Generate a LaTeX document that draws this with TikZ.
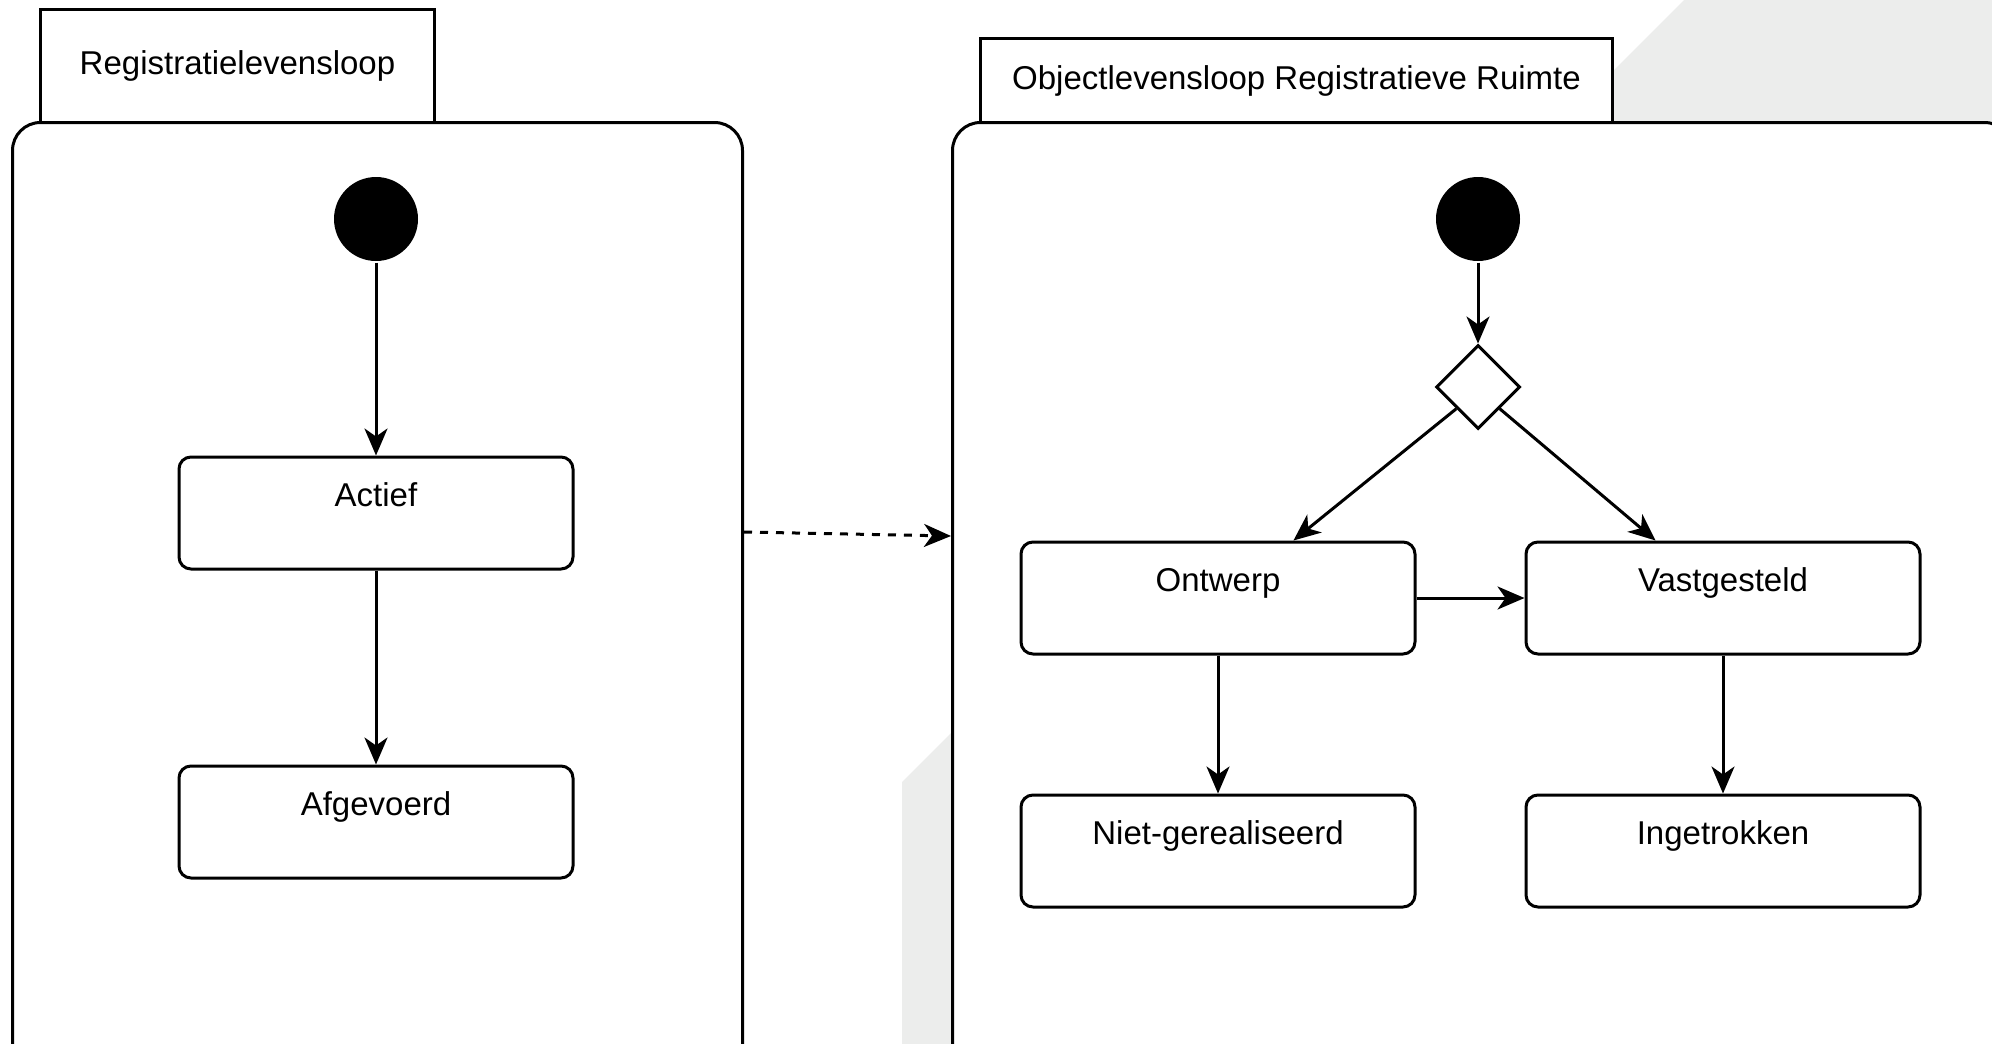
\documentclass[tikz,border=0pt]{standalone}
\usepackage{fontspec}
\setmainfont{Liberation Sans}
\usetikzlibrary{arrows.meta,shapes.geometric,calc}
\definecolor{bggray}{RGB}{236,237,236}
\begin{document}
\begin{tikzpicture}[x=1pt,y=-1pt, line width=3pt, font=\fontsize{33}{40}\selectfont,
 box/.style={draw, rounded corners=12pt, fill=white, minimum width=394pt, minimum height=112pt, inner sep=0pt, text height=24pt, text depth=38pt},
 container/.style={draw, rounded corners=28pt, fill=white, inner sep=0pt, anchor=north west},
 tab/.style={draw, fill=white, inner sep=0pt, anchor=north west},
 start/.style={circle, fill=black, minimum size=84pt, inner sep=0pt},
 choice/.style={diamond, draw, fill=white, minimum width=84pt, minimum height=84pt, inner sep=0pt, line width=3pt},
 arr/.style={-{Stealth[length=27pt,width=23pt,inset=8pt]}, line width=3pt}]
\useasboundingbox (0,0) rectangle (1992,1044);
\clip (0,0) rectangle (1992,1044);
\fill[bggray] (1684,0) -- (1992,0) -- (1992,1044) -- (902,1044) -- (902,782) -- cycle;
\node[container, minimum width=730pt, minimum height=950pt] (lc) at (11,121) {};
\node[container, minimum width=1060pt, minimum height=950pt] (rc) at (951,121) {};
\node[tab, minimum width=394pt, minimum height=113pt] (lt) at (39,8) {Registratielevensloop};
\node[tab, minimum width=632pt, minimum height=84pt] (rt) at (979,37) {Objectlevensloop Registratieve Ruimte};
\node[start] (s1) at (376,219) {};
\node[box] (act) at (376,513) {Actief};
\node[box] (afg) at (376,822) {Afgevoerd};
\node[start] (s2) at (1478,219) {};
\node[choice] (ch) at (1478,387) {};
\node[box] (ont) at (1218,598) {Ontwerp};
\node[box] (vas) at (1723,598) {Vastgesteld};
\node[box] (nge) at (1218,851) {Niet-gerealiseerd};
\node[box] (ing) at (1723,851) {Ingetrokken};
\draw[arr] (s1) -- (act);
\draw[arr] (act) -- (afg);
\draw[arr] (s2) -- (ch);
\draw[arr] (ch.south west) -- ($(ont.north west)!0.69!(ont.north east)$);
\draw[arr] (ch.south east) -- ($(vas.north west)!0.33!(vas.north east)$);
\draw[arr] (ont) -- (vas);
\draw[arr] (ont) -- (nge);
\draw[arr] (vas) -- (ing);
\draw[arr, dash pattern=on 8pt off 8pt] ($(lc.north east)+(0,411)$) -- ($(rc.north west)+(0,415)$);
\end{tikzpicture}
\end{document}
